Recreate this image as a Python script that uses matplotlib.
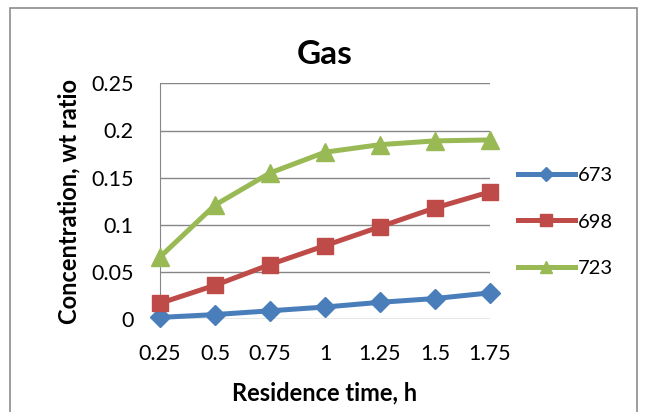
import matplotlib.pyplot as plt
from matplotlib.patches import Rectangle

# Datos
tiempo = ["0.25", "0.5", "0.75", "1", "1.25", "1.5", "1.75"]
gas_673 = [0.002, 0.005, 0.009, 0.013, 0.018, 0.022, 0.028]
gas_698 = [0.017, 0.036, 0.058, 0.078, 0.098, 0.118, 0.135]
gas_723 = [0.066, 0.121, 0.155, 0.177, 0.185, 0.189, 0.190]

plt.rcParams['font.family'] = ['Lato', 'DejaVu Sans']

fig = plt.figure(figsize=(6.48, 4.12), dpi=100)
ax = fig.add_axes([160 / 648, 1 - 319.3 / 412, 330 / 648, 236 / 412])

# Borde del area del grafico
fig.patches.append(Rectangle((10 / 648, -0.1), 627 / 648, 1.1 - 8 / 412,
                             transform=fig.transFigure, fill=False,
                             edgecolor="#8c8c8c", linewidth=1.2))

x = list(range(len(tiempo)))
ax.plot(x, gas_673, color="#4A7EBB", marker="D", markersize=10, linewidth=3.6,
        label="673", clip_on=False, zorder=3)
ax.plot(x, gas_698, color="#BE4B48", marker="s", markersize=11.5, linewidth=3.6,
        label="698", clip_on=False, zorder=3)
ax.plot(x, gas_723, color="#98B954", marker="^", markersize=13, linewidth=3.6,
        label="723", clip_on=False, zorder=3)

ax.set_xlim(0, len(tiempo) - 1)
ax.set_ylim(0, 0.25)
ax.set_xticks(x)
ax.set_xticklabels(tiempo)
ax.set_yticks([0, 0.05, 0.1, 0.15, 0.2, 0.25])
ax.set_yticklabels(["0", "0.05", "0.1", "0.15", "0.2", "0.25"])
ax.tick_params(length=0, labelsize=15.5)
ax.tick_params(axis="y", pad=19)
ax.tick_params(axis="x", pad=18)

ax.grid(axis="y", color="#868686", linewidth=1)
ax.set_axisbelow(True)
for lado in ["top", "right", "bottom"]:
    ax.spines[lado].set_visible(False)
ax.spines["left"].set_color("#868686")

ax.set_title("Gas", fontsize=24, fontweight="bold", pad=14)
ax.set_xlabel("Residence time, h", fontsize=17, fontweight="bold", labelpad=12)
ax.set_ylabel("Concentration, wt ratio", fontsize=17, fontweight="bold", labelpad=8)

fig.legend(loc="center left", bbox_to_anchor=(500 / 648, 1 - 222 / 412),
           frameon=False, fontsize=14.5, handlelength=2.8, handletextpad=0.15,
           labelspacing=1.45, markerscale=0.7)

plt.savefig("out.png", dpi=100)
